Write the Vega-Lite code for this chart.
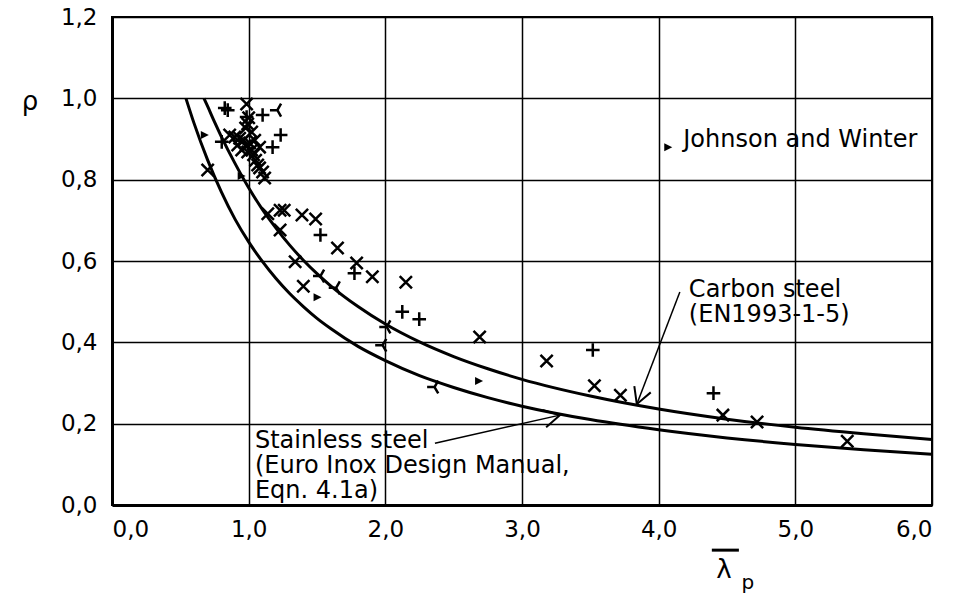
{
  "$schema": "https://vega.github.io/schema/vega-lite/v6.json",
  "width": 820,
  "height": 488,
  "autosize": {"type": "none"},
  "padding": {"left": 112, "top": 17, "right": 22, "bottom": 88},
  "background": "white",
  "config": {
    "view": {"stroke": "black", "strokeWidth": 2},
    "axis": {
      "labelFont": "DejaVu Sans",
      "labelFontSize": 23,
      "labelColor": "black",
      "ticks": false,
      "domainColor": "black",
      "domainWidth": 3,
      "gridColor": "black",
      "gridWidth": 1.5,
      "gridOpacity": 1,
      "title": null
    },
    "text": {"font": "DejaVu Sans", "color": "black"}
  },
  "datasets": {
    "curves": [
      {"curve": "carbon", "lam": 0.673, "rho": 1.0},
      {"curve": "carbon", "lam": 0.7, "rho": 0.980},
      {"curve": "carbon", "lam": 0.75, "rho": 0.942},
      {"curve": "carbon", "lam": 0.8, "rho": 0.906},
      {"curve": "carbon", "lam": 0.9, "rho": 0.840},
      {"curve": "carbon", "lam": 1.0, "rho": 0.780},
      {"curve": "carbon", "lam": 1.1, "rho": 0.727},
      {"curve": "carbon", "lam": 1.2, "rho": 0.681},
      {"curve": "carbon", "lam": 1.3, "rho": 0.639},
      {"curve": "carbon", "lam": 1.4, "rho": 0.602},
      {"curve": "carbon", "lam": 1.5, "rho": 0.569},
      {"curve": "carbon", "lam": 1.6, "rho": 0.539},
      {"curve": "carbon", "lam": 1.8, "rho": 0.488},
      {"curve": "carbon", "lam": 2.0, "rho": 0.445},
      {"curve": "carbon", "lam": 2.25, "rho": 0.401},
      {"curve": "carbon", "lam": 2.5, "rho": 0.365},
      {"curve": "carbon", "lam": 2.75, "rho": 0.335},
      {"curve": "carbon", "lam": 3.0, "rho": 0.309},
      {"curve": "carbon", "lam": 3.5, "rho": 0.268},
      {"curve": "carbon", "lam": 4.0, "rho": 0.236},
      {"curve": "carbon", "lam": 4.5, "rho": 0.211},
      {"curve": "carbon", "lam": 5.0, "rho": 0.191},
      {"curve": "carbon", "lam": 5.5, "rho": 0.175},
      {"curve": "carbon", "lam": 6.0, "rho": 0.161},
      {"curve": "stainless", "lam": 0.541, "rho": 1.0},
      {"curve": "stainless", "lam": 0.6, "rho": 0.939},
      {"curve": "stainless", "lam": 0.7, "rho": 0.848},
      {"curve": "stainless", "lam": 0.8, "rho": 0.770},
      {"curve": "stainless", "lam": 0.9, "rho": 0.703},
      {"curve": "stainless", "lam": 1.0, "rho": 0.647},
      {"curve": "stainless", "lam": 1.1, "rho": 0.599},
      {"curve": "stainless", "lam": 1.2, "rho": 0.557},
      {"curve": "stainless", "lam": 1.3, "rho": 0.520},
      {"curve": "stainless", "lam": 1.4, "rho": 0.488},
      {"curve": "stainless", "lam": 1.5, "rho": 0.459},
      {"curve": "stainless", "lam": 1.6, "rho": 0.434},
      {"curve": "stainless", "lam": 1.8, "rho": 0.390},
      {"curve": "stainless", "lam": 2.0, "rho": 0.355},
      {"curve": "stainless", "lam": 2.25, "rho": 0.318},
      {"curve": "stainless", "lam": 2.5, "rho": 0.289},
      {"curve": "stainless", "lam": 2.75, "rho": 0.264},
      {"curve": "stainless", "lam": 3.0, "rho": 0.243},
      {"curve": "stainless", "lam": 3.5, "rho": 0.210},
      {"curve": "stainless", "lam": 4.0, "rho": 0.185},
      {"curve": "stainless", "lam": 4.5, "rho": 0.165},
      {"curve": "stainless", "lam": 5.0, "rho": 0.149},
      {"curve": "stainless", "lam": 5.5, "rho": 0.136},
      {"curve": "stainless", "lam": 6.0, "rho": 0.125}
    ],
    "points": [
      {"type": "x", "lam": 0.70, "rho": 0.824},
      {"type": "x", "lam": 0.985, "rho": 0.986},
      {"type": "x", "lam": 0.861, "rho": 0.910},
      {"type": "x", "lam": 0.898, "rho": 0.905},
      {"type": "x", "lam": 0.934, "rho": 0.902},
      {"type": "x", "lam": 0.964, "rho": 0.897},
      {"type": "x", "lam": 0.920, "rho": 0.885},
      {"type": "x", "lam": 0.978, "rho": 0.883},
      {"type": "x", "lam": 1.007, "rho": 0.890},
      {"type": "x", "lam": 0.949, "rho": 0.873},
      {"type": "x", "lam": 0.993, "rho": 0.868},
      {"type": "x", "lam": 1.022, "rho": 0.873},
      {"type": "x", "lam": 0.978, "rho": 0.927},
      {"type": "x", "lam": 1.0, "rho": 0.952},
      {"type": "x", "lam": 0.993, "rho": 0.937},
      {"type": "x", "lam": 1.022, "rho": 0.917},
      {"type": "x", "lam": 1.044, "rho": 0.897},
      {"type": "x", "lam": 1.036, "rho": 0.861},
      {"type": "x", "lam": 1.051, "rho": 0.848},
      {"type": "x", "lam": 1.066, "rho": 0.836},
      {"type": "x", "lam": 1.080, "rho": 0.829},
      {"type": "x", "lam": 1.102, "rho": 0.819},
      {"type": "x", "lam": 1.117, "rho": 0.804},
      {"type": "x", "lam": 1.080, "rho": 0.880},
      {"type": "x", "lam": 1.14, "rho": 0.716},
      {"type": "x", "lam": 1.23, "rho": 0.725},
      {"type": "x", "lam": 1.26, "rho": 0.725},
      {"type": "x", "lam": 1.39, "rho": 0.713},
      {"type": "x", "lam": 1.49, "rho": 0.703},
      {"type": "x", "lam": 1.23, "rho": 0.676},
      {"type": "x", "lam": 1.65, "rho": 0.632},
      {"type": "x", "lam": 1.34, "rho": 0.598},
      {"type": "x", "lam": 1.79, "rho": 0.595},
      {"type": "x", "lam": 1.905, "rho": 0.561},
      {"type": "x", "lam": 2.15, "rho": 0.548},
      {"type": "x", "lam": 1.40, "rho": 0.538},
      {"type": "x", "lam": 2.69, "rho": 0.413},
      {"type": "x", "lam": 3.18, "rho": 0.354},
      {"type": "x", "lam": 3.53, "rho": 0.293},
      {"type": "x", "lam": 3.72, "rho": 0.270},
      {"type": "x", "lam": 4.47, "rho": 0.221},
      {"type": "x", "lam": 4.72, "rho": 0.204},
      {"type": "x", "lam": 5.38, "rho": 0.157},
      {"type": "plus", "lam": 0.825, "rho": 0.976},
      {"type": "plus", "lam": 0.847, "rho": 0.971},
      {"type": "plus", "lam": 0.985, "rho": 0.954},
      {"type": "plus", "lam": 1.102, "rho": 0.959},
      {"type": "plus", "lam": 1.234, "rho": 0.910},
      {"type": "plus", "lam": 1.175, "rho": 0.880},
      {"type": "plus", "lam": 0.803, "rho": 0.893},
      {"type": "plus", "lam": 1.525, "rho": 0.664},
      {"type": "plus", "lam": 1.774, "rho": 0.570},
      {"type": "plus", "lam": 2.124, "rho": 0.475},
      {"type": "plus", "lam": 2.248, "rho": 0.457},
      {"type": "plus", "lam": 3.518, "rho": 0.381},
      {"type": "plus", "lam": 4.401, "rho": 0.275},
      {"type": "tri", "lam": 1.21, "rho": 0.971},
      {"type": "tri", "lam": 1.525, "rho": 0.563},
      {"type": "tri", "lam": 1.64, "rho": 0.534},
      {"type": "tri", "lam": 2.01, "rho": 0.438},
      {"type": "tri", "lam": 1.98, "rho": 0.393},
      {"type": "tri", "lam": 2.36, "rho": 0.290},
      {"type": "jw", "lam": 0.679, "rho": 0.910},
      {"type": "jw", "lam": 0.949, "rho": 0.809},
      {"type": "jw", "lam": 1.504, "rho": 0.511},
      {"type": "jw", "lam": 2.686, "rho": 0.305}
    ],
    "arrows": [
      {"name": "carbon", "lam": 4.155, "rho": 0.524, "lam2": 3.84, "rho2": 0.248},
      {"name": "stainless", "lam": 2.363, "rho": 0.152, "lam2": 3.277, "rho2": 0.221}
    ],
    "labels": [
      {"lam": 4.221, "rho": 0.511, "label": "Carbon steel\n(EN1993-1-5)"},
      {"lam": 1.046, "rho": 0.140, "label": "Stainless steel\n(Euro Inox Design Manual,\nEqn. 4.1a)"},
      {"lam": 4.18, "rho": 0.880, "label": "Johnson and Winter"}
    ]
  },
  "encoding": {
    "x": {"field": "lam", "type": "quantitative"},
    "y": {"field": "rho", "type": "quantitative"}
  },
  "layer": [
    {
      "data": {"name": "curves"},
      "mark": {"type": "line", "color": "black", "strokeWidth": 3, "interpolate": "monotone"},
      "encoding": {
        "x": {
          "field": "lam", "type": "quantitative",
          "scale": {"domain": [0, 6], "nice": false, "zero": false},
          "axis": {"values": [0, 1, 2, 3, 4, 5, 6], "labelPadding": 13, "labelExpr": "replace(format(datum.value, '.1f'), '.', ',')"}
        },
        "y": {
          "field": "rho", "type": "quantitative",
          "scale": {"domain": [0, 1.2], "nice": false},
          "axis": {"values": [0, 0.2, 0.4, 0.6, 0.8, 1.0, 1.2], "labelPadding": 15, "labelExpr": "replace(format(datum.value, '.1f'), '.', ',')"}
        },
        "detail": {"field": "curve"}
      }
    },
    {
      "data": {"name": "points"},
      "transform": [{"filter": "datum.type !== 'jw'"}],
      "mark": {"type": "point", "filled": false, "color": "black", "strokeWidth": 2.5, "opacity": 1},
      "encoding": {
        "shape": {
          "field": "type", "type": "nominal", "legend": null,
          "scale": {"domain": ["x", "plus", "tri"], "range": ["M-1,-1L1,1M-1,1L1,-1", "M-1,0L1,0M0,-1L0,1", "M0,0L-1,0M0,0L0.5,-0.866M0,0L0.5,0.866"]}
        },
        "size": {
          "field": "type", "type": "nominal", "legend": null,
          "scale": {"domain": ["x", "plus", "tri"], "range": [150, 220, 170]}
        }
      }
    },
    {
      "data": {"name": "points"},
      "transform": [{"filter": "datum.type === 'jw'"}],
      "mark": {"type": "point", "filled": true, "color": "black", "opacity": 1, "shape": "M-1,-1L1,0L-1,1Z", "size": 64}
    },
    {
      "data": {"values": [{"lam": 4.07, "rho": 0.880}]},
      "mark": {"type": "point", "filled": true, "color": "black", "opacity": 1, "shape": "M-1,-1L1,0L-1,1Z", "size": 64}
    },
    {
      "data": {"name": "arrows"},
      "mark": {"type": "rule", "color": "black", "strokeWidth": 1.5},
      "encoding": {
        "x2": {"field": "lam2"},
        "y2": {"field": "rho2"}
      }
    },
    {
      "data": {"name": "arrows"},
      "transform": [{"filter": "datum.name === 'carbon'"}],
      "mark": {"type": "point", "filled": false, "color": "black", "strokeWidth": 2, "opacity": 1, "shape": "M-1,-0.55L0,0L-1,0.55", "size": 1024, "angle": 111},
      "encoding": {
        "x": {"field": "lam2", "type": "quantitative"},
        "y": {"field": "rho2", "type": "quantitative"}
      }
    },
    {
      "data": {"name": "arrows"},
      "transform": [{"filter": "datum.name === 'stainless'"}],
      "mark": {"type": "point", "filled": false, "color": "black", "strokeWidth": 2, "opacity": 1, "shape": "M-1,-0.55L0,0L-1,0.55", "size": 1024, "angle": 347.4},
      "encoding": {
        "x": {"field": "lam2", "type": "quantitative"},
        "y": {"field": "rho2", "type": "quantitative"}
      }
    },
    {
      "data": {"name": "labels"},
      "mark": {"type": "text", "align": "left", "baseline": "alphabetic", "fontSize": 24, "lineBreak": "\n", "lineHeight": 25},
      "encoding": {
        "text": {"field": "label"}
      }
    },
    {
      "data": {"values": [{"lam": -0.6, "rho": 0.99, "t": "ρ"}]},
      "mark": {"type": "text", "align": "center", "baseline": "middle", "fontSize": 26},
      "encoding": {"text": {"field": "t"}}
    },
    {
      "data": {"values": [{"lam": 4.477, "rho": -0.160, "t": "λ"}]},
      "mark": {"type": "text", "align": "center", "baseline": "middle", "fontSize": 26},
      "encoding": {"text": {"field": "t"}}
    },
    {
      "data": {"values": [{"lam": 4.652, "rho": -0.192, "t": "p"}]},
      "mark": {"type": "text", "align": "center", "baseline": "middle", "fontSize": 20},
      "encoding": {"text": {"field": "t"}}
    },
    {
      "data": {"values": [{"lam": 4.389, "rho": -0.111, "lam2": 4.587}]},
      "mark": {"type": "rule", "color": "black", "strokeWidth": 3},
      "encoding": {"x2": {"field": "lam2"}}
    }
  ]
}
